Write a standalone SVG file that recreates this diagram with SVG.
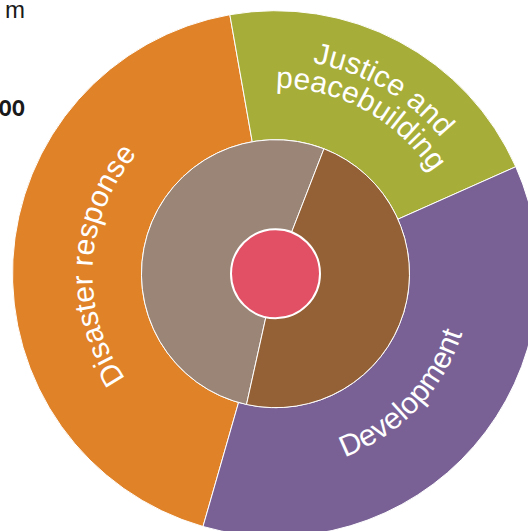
<svg xmlns="http://www.w3.org/2000/svg" xmlns:xlink="http://www.w3.org/1999/xlink" width="528" height="531" viewBox="0 0 528 531">
<style>
.seg{stroke:#ffffff;stroke-width:1}
.lbl{fill:#ffffff;font-family:"Liberation Sans",Arial,sans-serif;font-size:30px}
.side{fill:#1a1a1a;font-family:"Liberation Sans",Arial,sans-serif}
</style>
<defs>
<path id="pDis" d="M175.84,427.18 A183,183 0 0 1 192.42,110.65"/>
<path id="pDev" d="M246.53,467.54 A196,196 0 0 0 467.56,234.62"/>
<path id="pJus" d="M169.46,87.82 A214,214 0 0 1 489.5,274.82"/>
<path id="pPea" d="M178.59,114.93 A186,186 0 0 1 461.44,269.16"/>
</defs>
<text class="side" x="25" y="18" font-size="24" text-anchor="end">m</text>
<text class="side" transform="translate(25,116) scale(0.75,1)" font-size="29" font-weight="bold" text-anchor="end">oo</text>
<g id="disaster-response">
<path class="seg" fill="#E08228" d="M203.01,526.51 A263,263 0 0 1 229.83,14.70 L252.23,141.74 A134,134 0 0 0 238.56,402.51 Z"/>
<text class="lbl"><textPath xlink:href="#pDis" href="#pDis" startOffset="50%" text-anchor="middle">Disaster response</textPath></text>
</g>
<g id="justice-and-peacebuilding">
<path class="seg" fill="#A7AD39" d="M229.83,14.70 A263,263 0 0 1 515.76,166.73 L397.92,219.20 A134,134 0 0 0 252.23,141.74 Z"/>
<text class="lbl"><textPath xlink:href="#pJus" href="#pJus" startOffset="50%" text-anchor="middle">Justice and</textPath></text>
<text class="lbl"><textPath xlink:href="#pPea" href="#pPea" startOffset="50%" text-anchor="middle">peacebuilding</textPath></text>
</g>
<g id="development">
<path class="seg" fill="#796196" d="M515.76,166.73 A263,263 0 0 1 203.01,526.51 L238.56,402.51 A134,134 0 0 0 397.92,219.20 Z"/>
<text class="lbl"><textPath xlink:href="#pDev" href="#pDev" startOffset="50%" text-anchor="middle">Development</textPath></text>
</g>
<g id="inner-grey">
<path class="seg" fill="#9A8577" d="M275.5,273.7 L246.50,404.52 A134,134 0 1 1 323.96,148.77 Z"/>
</g>
<g id="inner-brown">
<path class="seg" fill="#946035" d="M275.5,273.7 L323.96,148.77 A134,134 0 0 1 246.50,404.52 Z"/>
</g>
<g id="center">
<circle cx="275.5" cy="273.7" r="44.5" fill="#E15065" stroke="#ffffff" stroke-width="2"/>
</g>
<g id="connectors"/>
</svg>
